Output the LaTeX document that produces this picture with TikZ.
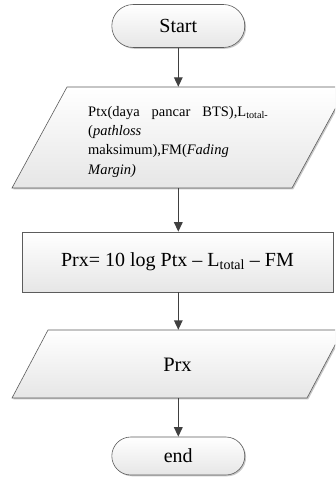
\documentclass[tikz,border=0pt]{standalone}
\usepackage{fontspec}
\setmainfont{Liberation Serif}
\usetikzlibrary{arrows.meta,shadows}
\definecolor{edgegray}{HTML}{5C5C5C}
\definecolor{arrowgray}{HTML}{404040}
\definecolor{fillbottom}{HTML}{E6E6E6}
\begin{document}
\begin{tikzpicture}[x=1pt,y=-1pt,
  boxfill/.style={top color=white,bottom color=fillbottom,draw=edgegray,line width=0.6pt},
  softshadow/.style={drop shadow={shadow xshift=1.3pt,shadow yshift=-1.3pt,opacity=0.22,fill=black}},
  terminal/.style={boxfill,softshadow,inner sep=0pt,minimum width=133pt,
    font=\fontsize{20}{24}\selectfont},
  anchorbox/.style={inner sep=0pt,minimum width=1pt},
  flow/.style={draw=arrowgray,line width=1.4pt,-{Triangle[width=8.5pt,length=9.5pt]}},
  small/.style={anchor=base west,inner sep=0pt,font=\fontsize{14.5}{17}\selectfont}
]
\useasboundingbox (0,0) rectangle (335,481);
\fill[white] (0,0) rectangle (335,481);
\clip (0,0) rectangle (335,481);

% start terminal
\node[terminal,rounded corners=21.5pt,minimum height=43pt] (start) at (178.3,26) {Start};

% first input parallelogram
\path[boxfill,softshadow] (12,188) -- (67,87) -- (347,87) -- (292,188) -- cycle;
\node[anchorbox,minimum height=101pt] (in1) at (178.3,137.5) {};
\node[small] (l1) at (88,116.5) {\makebox[180pt][s]{Ptx(daya pancar BTS),L\textsubscript{total-}}};
\node[small] (l2) at (88,135.7) {(\textit{pathloss}};
\node[small] (l3) at (88,154.9) {maksimum),FM(\textit{Fading}};
\node[small] (l4) at (88,174.1) {\textit{Margin)}};

% process box
\node[boxfill,softshadow,inner sep=0pt,minimum width=311pt,minimum height=60pt,
  font=\fontsize{20}{24}\selectfont] (calc) at (177.5,262)
  {Prx= 10 log Ptx – L\textsubscript{total} – FM};

% output parallelogram
\path[boxfill,softshadow] (12,398) -- (48,330) -- (343,330) -- (307,398) -- cycle;
\node[anchorbox,minimum height=68pt] (in2) at (178.3,364) {};
\node[inner sep=0pt,font=\fontsize{20.5}{24}\selectfont] (prx) at (177.5,365) {Prx};

% end terminal
\node[terminal,rounded corners=19pt,minimum height=38pt] (stop) at (178.3,456) {end};

% connectors
\draw[flow] (start.south) -- (in1.north);
\draw[flow] (in1.south) -- (in1.south |- calc.north);
\draw[flow] (in1.south |- calc.south) -- (in2.north);
\draw[flow] (in2.south) -- (stop.north);
\end{tikzpicture}
\end{document}
